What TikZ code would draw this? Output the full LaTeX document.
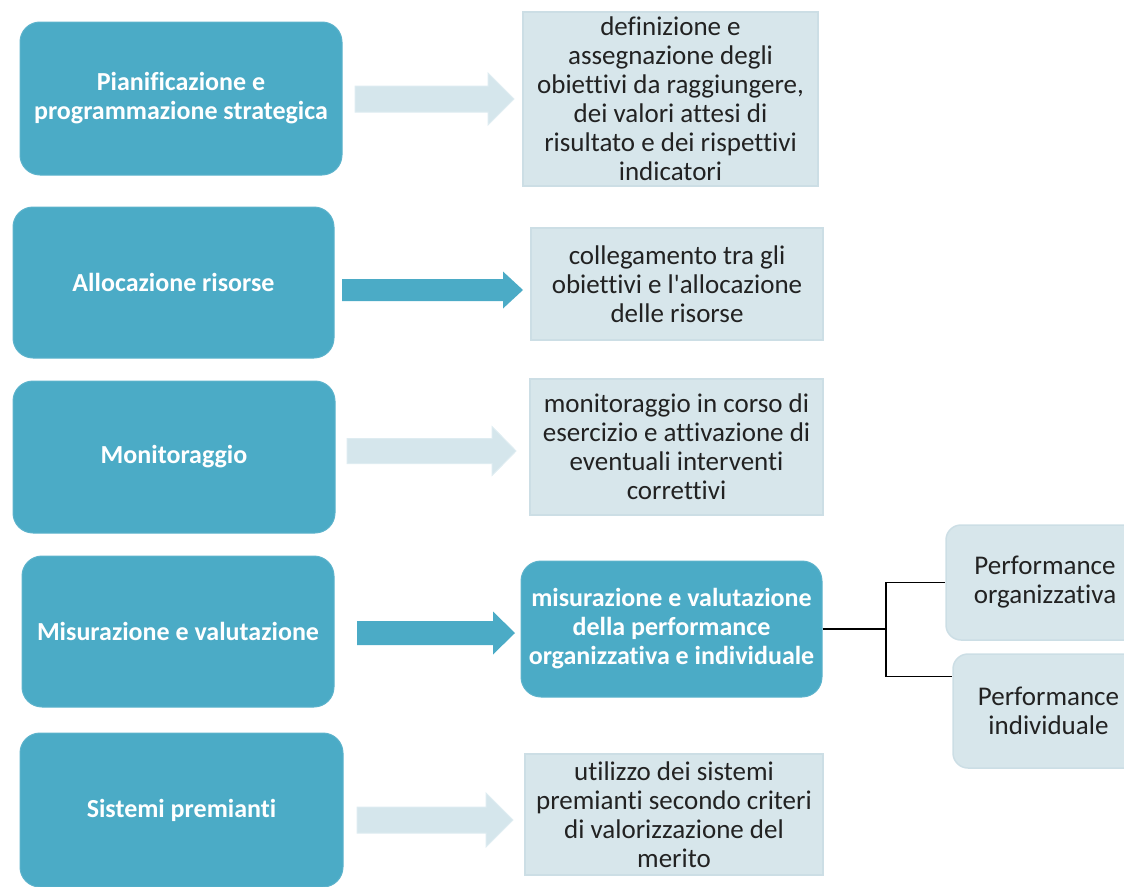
\documentclass[tikz,border=0pt]{standalone}
\usepackage{fontspec}
\setmainfont{Carlito}[Ligatures={TeXOff,NoCommon}]
\definecolor{tealbox}{RGB}{75,171,198}
\definecolor{lightbox}{RGB}{215,230,235}
\definecolor{lightedge}{RGB}{204,222,229}
\definecolor{lightarrow}{RGB}{213,230,236}
\definecolor{lightarrowedge}{RGB}{222,236,241}
\definecolor{textdark}{RGB}{34,34,34}
\newcommand\blockarr[7]{%
  \path[#1] ({#2},{#5-#6}) -- ({#3},{#5-#6}) -- ({#3},{#5-#7}) -- ({#4},{#5})
    -- ({#3},{#5+#7}) -- ({#3},{#5+#6}) -- ({#2},{#5+#6}) -- cycle;}
\begin{document}
\begin{tikzpicture}[x=1pt,y=-1pt,
  lbox/.style={fill=tealbox, draw=tealbox!90!white, line width=1pt, rounded corners=20pt,
    text=white, font=\fontsize{26}{29}\selectfont\bfseries, align=center, inner sep=0pt},
  rbox/.style={fill=lightbox, draw=lightedge, line width=1.5pt, text=textdark,
    font=\fontsize{27}{29}\selectfont, align=center, inner sep=0pt},
  pbox/.style={rbox, rounded corners=15pt},
  larrow/.style={fill=lightarrow, draw=lightarrowedge, line width=1pt},
  tarrow/.style={fill=tealbox},
  link/.style={draw=black, line width=1.4pt}
]
\useasboundingbox (0,0) rectangle (1124,886);

% left boxes
\node[lbox, minimum width=322pt, minimum height=153pt] (L1) at (181,98.5) {Pianificazione e\\programmazione strategica};
\node[lbox, minimum width=321pt, minimum height=151pt] (L2) at (173.5,282.5) {Allocazione risorse};
\node[lbox, minimum width=322pt, minimum height=152pt] (L3) at (174,457) {Monitoraggio};
\node[lbox, minimum width=312pt, minimum height=151pt] (L4) at (178,631.5) {Misurazione e valutazione};
\node[lbox, minimum width=323pt, minimum height=154pt] (L5) at (181.5,810) {Sistemi premianti};

% right boxes
\node[rbox, minimum width=295pt, minimum height=174pt] (R1) at (670.5,99) {definizione e\\assegnazione degli\\obiettivi da raggiungere,\\dei valori attesi di\\risultato e dei rispettivi\\indicatori};
\node[rbox, minimum width=292pt, minimum height=112pt] (R2) at (677,284) {collegamento tra gli\\obiettivi e l'allocazione\\delle risorse};
\node[rbox, minimum width=293pt, minimum height=136pt] (R3) at (676.5,447) {monitoraggio in corso di\\esercizio e attivazione di\\eventuali interventi\\correttivi};
\node[lbox, minimum width=301pt, minimum height=136pt] (R4) at (671.5,629) {misurazione e valutazione\\della performance\\organizzativa e individuale};
\node[rbox, minimum width=298pt, minimum height=121pt] (R5) at (674,814.5) {utilizzo dei sistemi\\premianti secondo criteri\\di valorizzazione del\\merito};

% performance boxes
\node[pbox, minimum width=198pt, minimum height=115pt] (P1) at (1045,582.5) {Performance\\organizzativa};
\node[pbox, minimum width=191pt, minimum height=114pt] (P2) at (1048.5,711) {Performance\\individuale};

% block arrows
\blockarr{larrow}{355}{488}{514}{99}{13}{26}
\blockarr{tarrow}{342}{503}{523}{290}{11}{18.5}
\blockarr{larrow}{347}{492}{516}{451}{12.5}{24.5}
\blockarr{tarrow}{357}{493}{515}{633}{12}{21.5}
\blockarr{larrow}{357}{486}{513}{820}{13}{27}

% connector
\coordinate (J) at (886,629);
\coordinate (P2in) at ([yshift=-23pt]P2.north west);
\draw[link] (R4.east) -- (J);
\draw[link] (J) |- (P1.west);
\draw[link] (J) |- (P2in);
\end{tikzpicture}
\end{document}
